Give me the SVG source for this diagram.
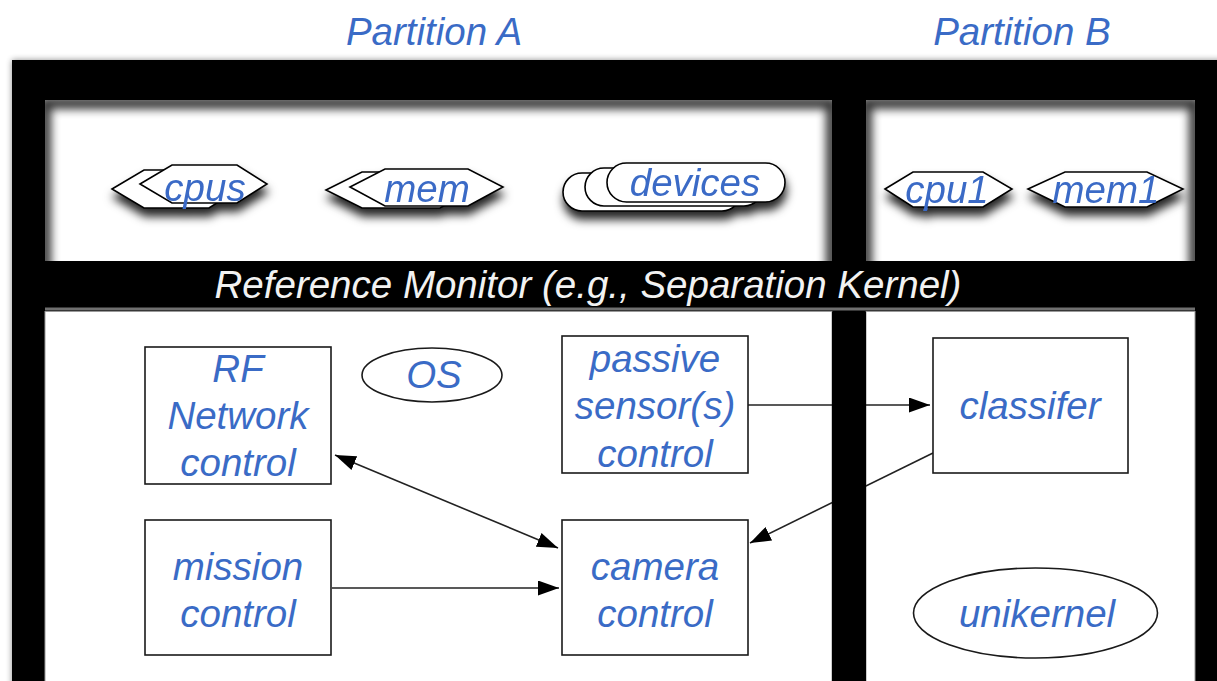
<svg xmlns="http://www.w3.org/2000/svg" width="1217" height="681" viewBox="0 0 1217 681">
  <style>
    .lbl { font-family: "Liberation Sans", Arial, sans-serif; font-style: italic; font-size: 38.5px; fill: #3a6bc6; text-anchor: middle; }
    .band { font-family: "Liberation Sans", Arial, sans-serif; font-style: italic; font-size: 38.5px; fill: #f2f2f2; text-anchor: middle; }
    .res { fill: #fff; stroke: #000; stroke-width: 1.6; }
    .box { fill: #fff; stroke: #1a1a1a; stroke-width: 1.6; }
    .edge { fill: none; stroke: #222; stroke-width: 1.6; }
    .shade { fill: none; stroke: #000; stroke-width: 12; opacity: 0.8; }
  </style>
  <defs>
    <filter id="glow" x="-5%" y="-5%" width="110%" height="110%">
      <feGaussianBlur stdDeviation="3"/>
    </filter>
    <filter id="inner" x="-10%" y="-30%" width="120%" height="160%">
      <feOffset dx="0" dy="3"/>
      <feGaussianBlur stdDeviation="5"/>
    </filter>
    <filter id="drop" x="-20%" y="-30%" width="140%" height="190%">
      <feDropShadow dx="1" dy="8" stdDeviation="5" flood-color="#000" flood-opacity="0.85"/>
    </filter>
    <clipPath id="clipA"><rect x="45" y="100" width="787" height="161"/></clipPath>
    <clipPath id="clipB"><rect x="866" y="100" width="329" height="161"/></clipPath>
    <marker id="arrow" markerUnits="userSpaceOnUse" markerWidth="21" markerHeight="15" refX="21" refY="7.5" orient="auto-start-reverse">
      <path d="M0,0 L21,7.5 L0,15 z" fill="#000"/>
    </marker>
  </defs>

  <!-- partition titles -->
  <g id="partition-a-title"><text class="lbl" x="434" y="45">Partition A</text></g>
  <g id="partition-b-title"><text class="lbl" x="1022" y="45">Partition B</text></g>

  <!-- black frame with soft edge -->
  <g id="frame">
    <rect x="12" y="60" width="1215" height="631" fill="#000" opacity="0.45" filter="url(#glow)"/>
    <rect x="12" y="60" width="1215" height="631" fill="#000"/>
    <!-- resource panels, shaded along their top and sides -->
    <rect x="45" y="100" width="787" height="161" fill="#fff"/>
    <rect x="866" y="100" width="329" height="161" fill="#fff"/>
    <g clip-path="url(#clipA)">
      <path class="shade" d="M45,290 V100 H832 V290" filter="url(#inner)"/>
    </g>
    <g clip-path="url(#clipB)">
      <path class="shade" d="M866,290 V100 H1195 V290" filter="url(#inner)"/>
    </g>
    <!-- separator under the kernel band -->
    <rect x="45" y="307.5" width="1150" height="3" fill="#707070"/>
    <!-- application panels -->
    <rect x="45" y="311.5" width="787" height="380" fill="#fff" stroke="#999" stroke-width="1"/>
    <rect x="866" y="311.5" width="329" height="380" fill="#fff" stroke="#999" stroke-width="1"/>
  </g>

  <g id="kernel-band"><text class="band" x="588" y="298">Reference Monitor (e.g., Separation Kernel)</text></g>

  <!-- connectors -->
  <g id="connectors">
    <line class="edge" x1="335" y1="455" x2="558" y2="548" marker-start="url(#arrow)" marker-end="url(#arrow)"/>
    <line class="edge" x1="332" y1="588" x2="559" y2="588" marker-end="url(#arrow)"/>
    <line class="edge" x1="748" y1="405" x2="930" y2="405" marker-end="url(#arrow)"/>
    <line class="edge" x1="933" y1="453" x2="750" y2="543" marker-end="url(#arrow)"/>
  </g>

  <!-- divider between partitions, drawn over the crossing links -->
  <rect id="divider" x="832" y="311.5" width="34" height="380" fill="#000"/>

  <!-- partition A resources -->
  <g id="cpus" filter="url(#drop)">
    <polygon class="res" points="112,189 144,170 209,170 239,189 209,208 144,208"/>
    <polygon class="res" points="140,184 172,165 237,165 267,184 237,203 172,203"/>
    <text class="lbl" x="205" y="201">cpus</text>
  </g>
  <g id="mem" filter="url(#drop)">
    <polygon class="res" points="326,190 362,172 440,172 474,190 440,208 362,208"/>
    <polygon class="res" points="350,187 385,169 468,169 503,187 468,206 385,206"/>
    <text class="lbl" x="427" y="202">mem</text>
  </g>
  <g id="devices" filter="url(#drop)">
    <rect class="res" x="563" y="173" width="178" height="38" rx="19"/>
    <rect class="res" x="585" y="168" width="178" height="38" rx="19"/>
    <rect class="res" x="607" y="163" width="178" height="39" rx="19.5"/>
    <text class="lbl" x="695" y="196">devices</text>
  </g>

  <!-- partition B resources -->
  <g id="cpu1" filter="url(#drop)">
    <polygon class="res" points="885,189 913,172 983,172 1012,189 983,207 913,207"/>
    <text class="lbl" x="947" y="203">cpu1</text>
  </g>
  <g id="mem1" filter="url(#drop)">
    <polygon class="res" points="1028,189 1065,172 1147,172 1183,189 1147,207 1065,207"/>
    <text class="lbl" x="1106" y="203">mem1</text>
  </g>

  <!-- partition A components -->
  <g id="rf-network-control">
    <rect class="box" x="145" y="347" width="186" height="137"/>
    <text class="lbl" x="238" y="382">RF</text>
    <text class="lbl" x="238" y="429">Network</text>
    <text class="lbl" x="238" y="476">control</text>
  </g>
  <g id="os">
    <ellipse class="box" cx="432" cy="375" rx="70" ry="27"/>
    <text class="lbl" x="434" y="388">OS</text>
  </g>
  <g id="passive-sensor-control">
    <rect class="box" x="562" y="336" width="186" height="137"/>
    <text class="lbl" x="655" y="372">passive</text>
    <text class="lbl" x="655" y="419">sensor(s)</text>
    <text class="lbl" x="655" y="467">control</text>
  </g>
  <g id="mission-control">
    <rect class="box" x="145" y="520" width="186" height="135"/>
    <text class="lbl" x="238" y="580">mission</text>
    <text class="lbl" x="238" y="627">control</text>
  </g>
  <g id="camera-control">
    <rect class="box" x="562" y="520" width="186" height="135"/>
    <text class="lbl" x="655" y="580">camera</text>
    <text class="lbl" x="655" y="627">control</text>
  </g>

  <!-- partition B components -->
  <g id="classifer">
    <rect class="box" x="933" y="338" width="195" height="135"/>
    <text class="lbl" x="1030" y="419">classifer</text>
  </g>
  <g id="unikernel">
    <ellipse class="box" cx="1035.5" cy="613" rx="122" ry="45"/>
    <text class="lbl" x="1037" y="627">unikernel</text>
  </g>
</svg>
